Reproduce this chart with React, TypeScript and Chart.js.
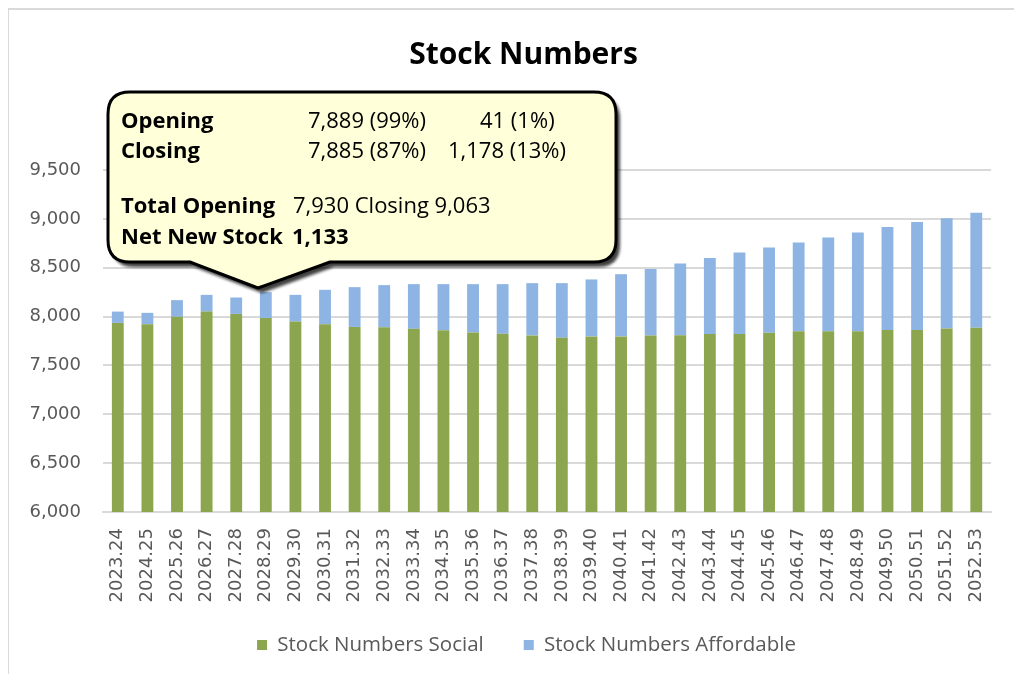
import React, { useEffect, useRef } from "react";
import { Chart, registerables } from "chart.js";

Chart.register(...registerables);

const categories = [
  "2023.24", "2024.25", "2025.26", "2026.27", "2027.28", "2028.29", "2029.30", "2030.31",
  "2031.32", "2032.33", "2033.34", "2034.35", "2035.36", "2036.37", "2037.38", "2038.39",
  "2039.40", "2040.41", "2041.42", "2042.43", "2043.44", "2044.45", "2045.46", "2046.47",
  "2047.48", "2048.49", "2049.50", "2050.51", "2051.52", "2052.53",
];

const socialValues = [
  7935, 7921, 7997, 8051, 8027, 7986, 7949, 7921, 7894, 7890,
  7875, 7861, 7837, 7824, 7807, 7783, 7797, 7797, 7807, 7808,
  7822, 7822, 7835, 7849, 7849, 7849, 7863, 7863, 7877, 7885,
];

const affordableValues = [
  116, 117, 171, 171, 168, 264, 273, 353, 407, 432,
  457, 471, 495, 508, 535, 559, 583, 637, 681, 734,
  778, 833, 872, 909, 961, 1012, 1053, 1104, 1128, 1178,
];

const seriesNames = ["Stock Numbers Social", "Stock Numbers Affordable"];
const yMin = 6000;
const yMax = 9500;
const yStep = 500;
const chartTitle = "Stock Numbers";

const calloutLabels = ["Opening", "Closing", "Total Opening", "Net New Stock"];
const calloutOpening = ["7,889 (99%)", "41 (1%)"];
const calloutClosing = ["7,885 (87%)", "1,178 (13%)"];
const calloutTotals = "7,930 Closing 9,063";
const calloutNet = "1,133";

const GREEN = "#8ba64e";
const BLUE = "#8eb4e3";
const GRID = "#d9d9d9";
const TEXT = "#595959";

const shiftPlugin = {
  id: "shiftBlocks",
  afterLayout(chart: any) {
    const lg = chart.legend;
    if (lg) {
      lg.left += 14;
      lg.right += 14;
      lg.top -= 8.75;
      lg.bottom -= 8.75;
    }
    const tb = chart.titleBlock;
    if (tb) {
      tb.left += 11;
      tb.right += 11;
    }
  },
};

export default function App() {
  const canvasRef = useRef<HTMLCanvasElement | null>(null);

  useEffect(() => {
    if (!canvasRef.current) return;
    const chart = new Chart(canvasRef.current, {
      type: "bar",
      data: {
        labels: categories,
        datasets: [
          {
            label: seriesNames[0],
            data: socialValues,
            backgroundColor: GREEN,
            barPercentage: 0.4,
            categoryPercentage: 1,
          },
          {
            label: seriesNames[1],
            data: affordableValues,
            backgroundColor: BLUE,
            barPercentage: 0.4,
            categoryPercentage: 1,
          },
        ],
      },
      plugins: [shiftPlugin],
      options: {
        animation: false,
        responsive: true,
        maintainAspectRatio: false,
        layout: { padding: { left: 10, right: 7, top: 0, bottom: 0 } },
        plugins: {
          title: {
            display: true,
            text: chartTitle,
            color: "#000",
            font: { family: "Open Sans", weight: "bold", size: 30 },
            padding: { top: 29, bottom: 97 },
          },
          legend: {
            position: "bottom",
            labels: {
              boxWidth: 10,
              boxHeight: 10,
              padding: 40,
              color: TEXT,
              font: { family: "Open Sans", size: 20.5 },
            },
          },
          tooltip: { enabled: false },
        },
        scales: {
          x: {
            stacked: true,
            grid: { display: false, drawTicks: false },
            border: { color: GRID, width: 2 },
            ticks: {
              autoSkip: false,
              minRotation: 90,
              maxRotation: 90,
              padding: 16,
              color: TEXT,
              font: { family: "DejaVu Sans", size: 18 },
            },
            afterFit: (s: any) => {
              s.height = 91.5;
            },
          },
          y: {
            stacked: true,
            min: yMin,
            max: yMax,
            grid: { color: GRID, lineWidth: 2, drawTicks: false },
            border: { display: false },
            ticks: {
              stepSize: yStep,
              padding: 22,
              color: TEXT,
              font: { family: "DejaVu Sans", size: 18 },
              callback: (v: any) => Number(v).toLocaleString("en-US"),
            },
            afterFit: (s: any) => {
              s.width = 85;
            },
          },
        },
      },
    });
    return () => chart.destroy();
  }, []);

  const rowTop = [96, 125.5, 180.5, 212];
  const txt: React.CSSProperties = {
    position: "absolute",
    fontFamily: "'Open Sans', sans-serif",
    fontSize: 22,
    lineHeight: "30px",
    color: "#000",
    whiteSpace: "nowrap",
  };
  const bold: React.CSSProperties = { ...txt, fontWeight: 700 };

  const r = 22;
  const L = 100, T = 84, R = 608, B = 254;
  const path = `M ${L + r} ${T} H ${R - r} Q ${R} ${T} ${R} ${T + r} V ${B - r} Q ${R} ${B} ${R - r} ${B} H 322 L 250 280 L 182 ${B} H ${L + r} Q ${L} ${B} ${L} ${B - r} V ${T + r} Q ${L} ${T} ${L + r} ${T} Z`;

  return (
    <div style={{ position: "relative", width: 1006, height: 666 }}>
      <div
        style={{
          position: "absolute",
          left: -1,
          top: 0,
          width: 1010,
          height: 670,
          borderLeft: `2px solid ${GRID}`,
          borderTop: `2px solid ${GRID}`,
          pointerEvents: "none",
        }}
      />
      <canvas ref={canvasRef} />
      <svg
        width={1006}
        height={666}
        style={{ position: "absolute", left: 0, top: 0, pointerEvents: "none" }}
      >
        <defs>
          <filter id="sh" x="-10%" y="-10%" width="120%" height="130%">
            <feGaussianBlur stdDeviation="1.5" />
          </filter>
        </defs>
        <path d={path} transform="translate(4,5)" fill="#000" opacity={0.75} filter="url(#sh)" />
        <path d={path} fill="#ffffd9" stroke="#000" strokeWidth={3} strokeLinejoin="round" />
      </svg>
      <div style={{ ...bold, left: 113, top: rowTop[0] }}>{calloutLabels[0]}</div>
      <div style={{ ...txt, left: 300, top: rowTop[0] }}>{calloutOpening[0]}</div>
      <div style={{ ...txt, left: 472, top: rowTop[0] }}>{calloutOpening[1]}</div>
      <div style={{ ...bold, left: 113, top: rowTop[1] }}>{calloutLabels[1]}</div>
      <div style={{ ...txt, left: 300, top: rowTop[1] }}>{calloutClosing[0]}</div>
      <div style={{ ...txt, left: 440, top: rowTop[1] }}>{calloutClosing[1]}</div>
      <div style={{ ...bold, left: 113, top: rowTop[2] }}>{calloutLabels[2]}</div>
      <div style={{ ...txt, left: 285, top: rowTop[2] }}>{calloutTotals}</div>
      <div style={{ ...bold, left: 113, top: rowTop[3] }}>{calloutLabels[3]}</div>
      <div style={{ ...bold, left: 284, top: rowTop[3] }}>{calloutNet}</div>
    </div>
  );
}
